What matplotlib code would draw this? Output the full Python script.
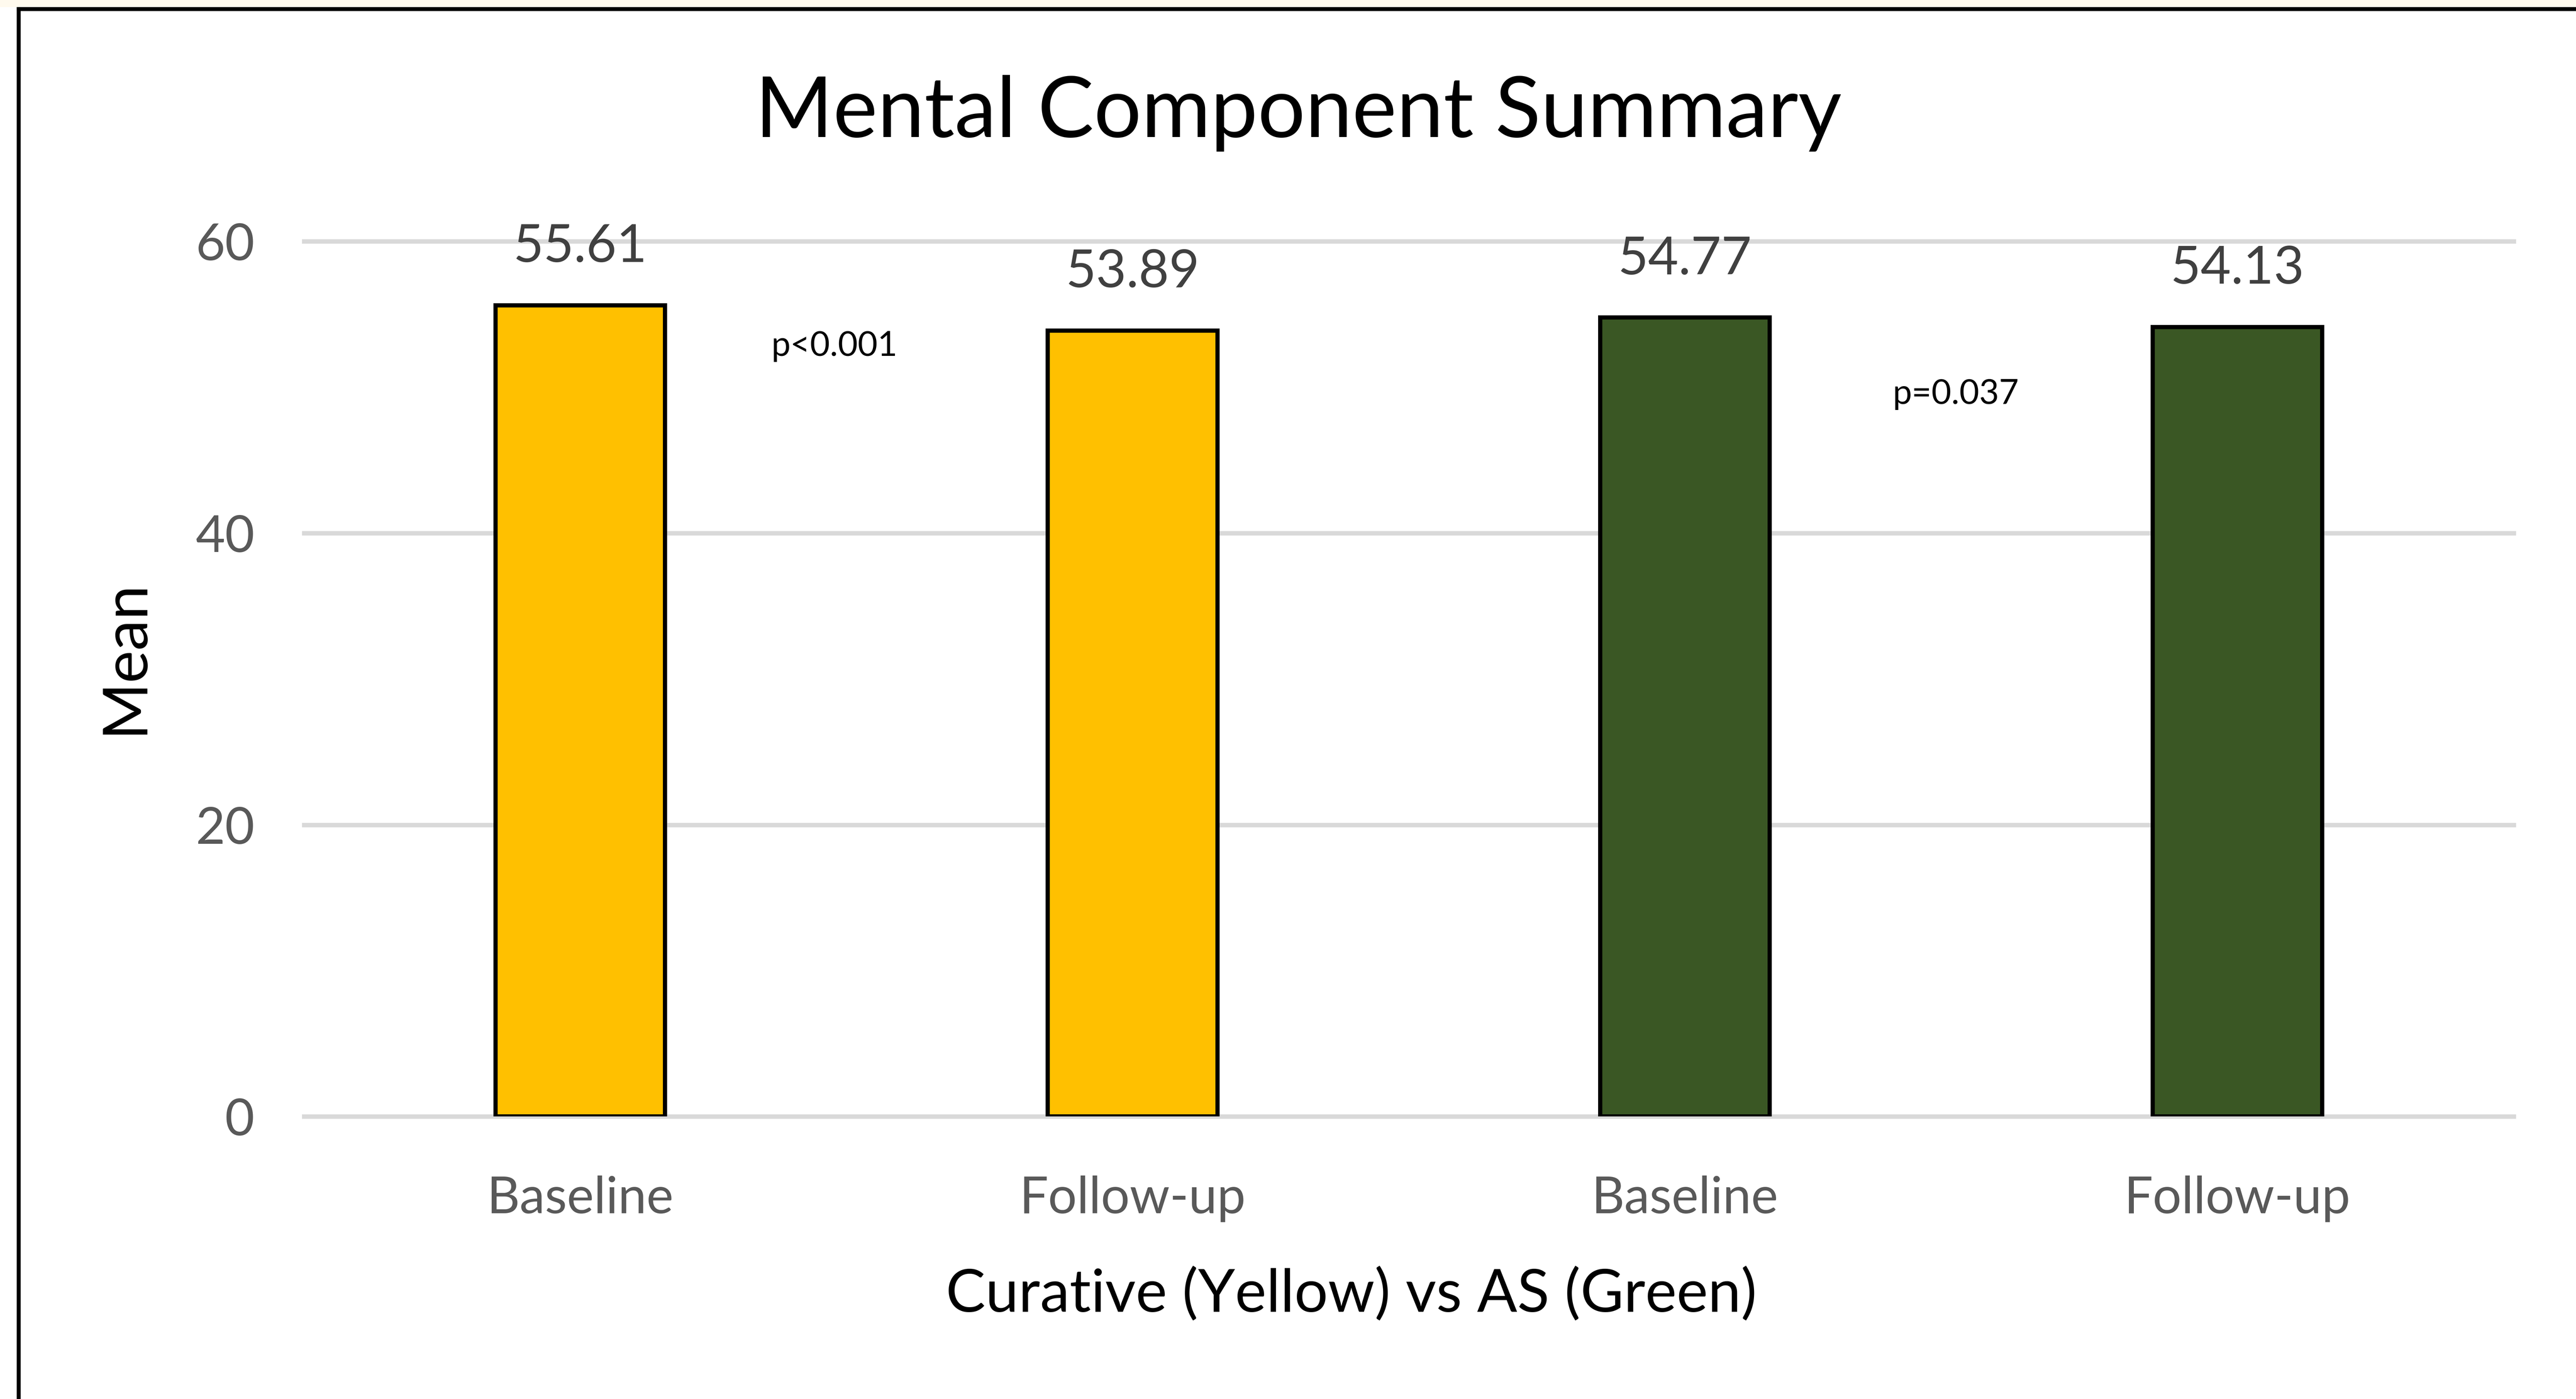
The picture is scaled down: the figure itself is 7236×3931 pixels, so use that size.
import matplotlib
matplotlib.use("Agg")
import matplotlib.pyplot as plt
from matplotlib.lines import Line2D
from matplotlib.patches import Rectangle

# data
categories = ["Baseline", "Follow-up", "Baseline", "Follow-up"]
means = [55.61, 53.89, 54.77, 54.13]
bar_colors = ["#FFC000", "#FFC000", "#3A5724", "#3A5724"]
y_ticks = [0, 20, 40, 60]
p_labels = ["p<0.001", "p=0.037"]
p_x = [0.46, 2.49]
p_y = [52.8, 49.5]

plt.rcParams['font.family'] = ['Lato', 'DejaVu Sans']

fig = plt.figure(figsize=(72.36, 39.31), dpi=100)
ax = fig.add_axes([0.118, 0.2019, 0.8578, 0.6256])

x = list(range(len(categories)))
for yv in y_ticks:
    ax.axhline(yv, color="#D9D9D9", linewidth=9, zorder=0, clip_on=False)

bars = ax.bar(x, means, width=0.307, color=bar_colors, edgecolor="black",
              linewidth=8.5, zorder=2)

for xi, m in zip(x, means):
    ax.annotate(f"{m:.2f}", (xi, m), xytext=(0, 118), textcoords="offset points",
                ha="center", va="center", fontsize=106, color="#404040")

for lbl, px, py in zip(p_labels, p_x, p_y):
    ax.text(px, py, lbl, ha="center", va="center", fontsize=69, color="black")

ax.set_xlim(-0.5, 3.5)
ax.set_ylim(0, 60)
ax.set_yticks(y_ticks)
ax.set_xticks(x)
ax.set_xticklabels(categories)
ax.tick_params(axis="both", length=0, labelsize=103, labelcolor="#595959")
ax.tick_params(axis="y", pad=100)
ax.tick_params(axis="x", pad=119)
for s in ax.spines.values():
    s.set_visible(False)

ax.set_xlabel("Curative (Yellow) vs AS (Green)", fontsize=120, color="black", labelpad=92)
ax.xaxis.label.set_x(0.474)
ax.set_ylabel("Mean", fontsize=125, color="black")
ax.yaxis.set_label_coords(-0.0685, 0.525)

fig.text(0.504, 0.919, "Mental Component Summary", ha="center", va="center",
         fontsize=170, color="black")

# outer frame (top and left edges), faint strip above the top edge
fig.add_artist(Rectangle((0, 0.9949), 1, 0.0051, facecolor="#FFFAEE", edgecolor="none",
                         transform=fig.transFigure))
fig.add_artist(Line2D([0.0072, 1.0], [0.9936, 0.9936], color="black", linewidth=8,
                      transform=fig.transFigure))
fig.add_artist(Line2D([0.0072, 0.0072], [0.0, 0.9936], color="black", linewidth=8,
                      transform=fig.transFigure))

fig.savefig("out.png", dpi=100, facecolor="white")
